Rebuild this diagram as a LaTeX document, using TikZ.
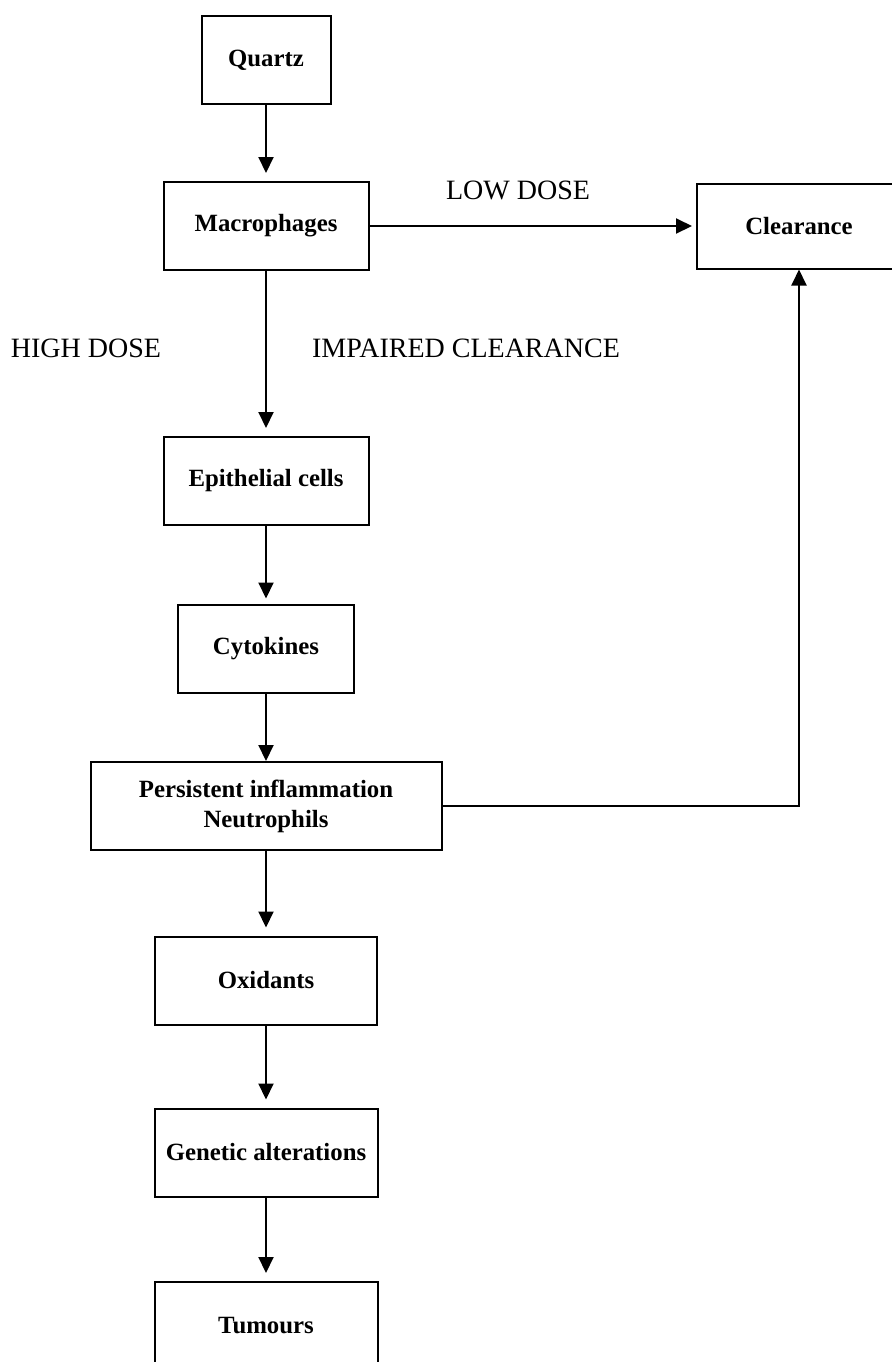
\documentclass[tikz,border=0pt]{standalone}
\usepackage{fontspec}
\setmainfont{Liberation Serif}
\usetikzlibrary{arrows.meta}

\begin{document}
\begin{tikzpicture}[x=0.5pt, y=-0.5pt,
    box/.style={draw, line width=1pt, inner sep=2pt, align=center,
        font=\fontsize{12.4}{15}\selectfont\bfseries, minimum height=44pt},
    dose/.style={font=\fontsize{14}{16}\selectfont, anchor=base, inner sep=0pt},
    flow/.style={line width=1pt, -{Triangle[width=7.5pt, length=8pt]}},
    gap/.style={shorten >=4pt}]
    % page frame (right and bottom boxes run off the page)
    \clip (0,0) rectangle (892,1362);

    % --- Main column ---
    \node[box, minimum width=64.5pt] (quartz) at (266,60) {Quartz};
    \node[box, minimum width=102.5pt] (macro) at (266,226) {Macrophages};
    \node[box, minimum width=102.5pt] (epith) at (266,481) {Epithelial cells};
    \node[box, minimum width=88pt] (cyto) at (266,648.5) {Cytokines};
    \node[box, minimum width=175.5pt] (persist) at (266,806)
        {Persistent inflammation\\Neutrophils};
    \node[box, minimum width=111pt] (oxid) at (266,980.5) {Oxidants};
    \node[box, minimum width=111.5pt] (genetic) at (266,1152.5) {Genetic alterations};
    \node[box, minimum width=111.5pt] (tumours) at (266,1326) {Tumours};

    % --- Clearance side ---
    \node[box, minimum width=102pt, minimum height=42.5pt] (clear) at (799,226) {Clearance};

    % --- Dose labels ---
    \node[dose] (lowdose) at (518,199) {LOW DOSE};
    \node[dose] (highdose) at (86,357) {HIGH DOSE};
    \node[dose] (impaired) at (466,357) {IMPAIRED CLEARANCE};

    % --- Arrows down the column ---
    \draw[flow, gap] (quartz) -- (macro);
    \draw[flow, gap] (macro) -- (epith);
    \draw[flow, shorten >=2.5pt] (epith) -- (cyto);
    \draw[flow] (cyto) -- (persist);
    \draw[flow, gap] (persist) -- (oxid);
    \draw[flow, gap] (oxid) -- (genetic);
    \draw[flow, gap] (genetic) -- (tumours);

    % --- Arrows to clearance ---
    \draw[flow, shorten >=2pt] (macro) -- (clear);
    \draw[flow] (persist.east) -| (clear.south);
\end{tikzpicture}
\end{document}
